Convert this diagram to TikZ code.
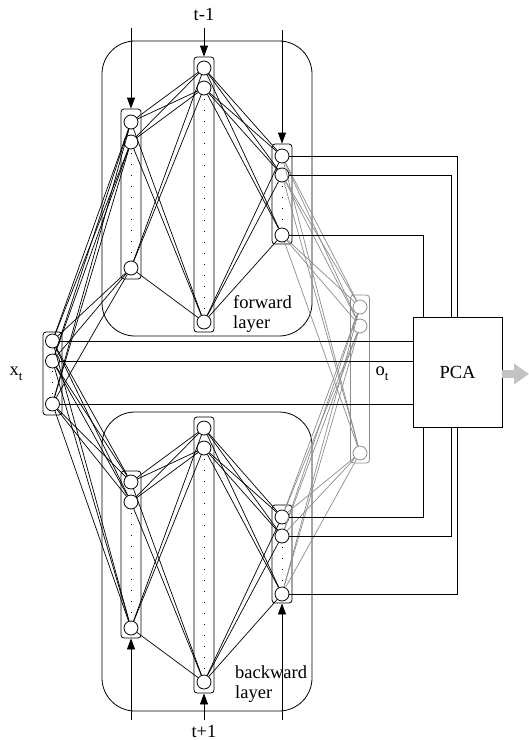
\documentclass[tikz,border=0pt]{standalone}
\usepackage{fontspec}
\setmainfont{Liberation Serif}
\usetikzlibrary{arrows.meta}
\definecolor{ogray}{RGB}{140,140,140}
\definecolor{agray}{RGB}{195,195,195}
\begin{document}
\begin{tikzpicture}[x=1pt,y=-1pt,
  neuron/.style={circle,draw,minimum size=14pt,inner sep=0pt,line width=0.8pt},
  gneuron/.style={neuron,draw=ogray},
  colbox/.style={draw,rounded corners=3pt,line width=0.8pt,minimum width=20pt,inner sep=0pt},
  gcolbox/.style={colbox,draw=ogray,minimum width=19pt},
  layerbox/.style={draw,rounded corners=33pt,line width=0.8pt,inner sep=0pt},
  conn/.style={line width=0.7pt},
  gconn/.style={line width=0.7pt,draw=ogray},
  feed/.style={line width=0.8pt,-{Triangle[length=11pt,width=8pt]}},
  lbl/.style={font=\fontsize{18.5}{20}\selectfont,inner sep=0pt},
  coldots/.style={line width=1pt,dash pattern=on 1pt off 10pt}
]
\useasboundingbox (0,0) rectangle (529,740);

% layer boxes
\node[layerbox,minimum width=210pt,minimum height=295pt] (fwd) at (207,188.5) {};
\node[layerbox,minimum width=210pt,minimum height=299pt] (bwd) at (207,561.5) {};

% column boxes
\node[colbox,minimum height=170pt] (FLb) at (131,194) {};
\node[colbox,minimum height=275pt] (FMb) at (204,194.5) {};
\node[colbox,minimum height=100pt] (FRb) at (282,194) {};
\node[colbox,minimum height=167pt] (BLb) at (131,554.5) {};
\node[colbox,minimum height=276pt] (BMb) at (204,555) {};
\node[colbox,minimum height=98pt] (BRb) at (282,554) {};
\node[colbox,minimum height=83pt,minimum width=19pt] (Xb) at (52.5,373.5) {};
\node[gcolbox,minimum height=168pt] (Ob) at (360,379) {};

% dots in columns
\draw[coldots] (131,153) -- (131,259);
\draw[coldots] (204,99) -- (204,313);
\draw[coldots] (282,186) -- (282,227);
\draw[coldots] (131,513) -- (131,619);
\draw[coldots] (204,459) -- (204,673);
\draw[coldots] (282,547) -- (282,586);
\draw[coldots] (52.5,371) -- (52.5,396);

% neurons
\node[neuron] (FL1) at (131,122) {};
\node[neuron] (FL2) at (131,142) {};
\node[neuron] (FL3) at (131,268) {};
\node[neuron] (FM1) at (204,68) {};
\node[neuron] (FM2) at (204,88) {};
\node[neuron] (FM3) at (204,322) {};
\node[neuron] (FR1) at (282,156) {};
\node[neuron] (FR2) at (282,175) {};
\node[neuron] (FR3) at (282,235) {};
\node[neuron] (BL1) at (131,482) {};
\node[neuron] (BL2) at (131,502) {};
\node[neuron] (BL3) at (131,628) {};
\node[neuron] (BM1) at (204,428) {};
\node[neuron] (BM2) at (204,448) {};
\node[neuron] (BM3) at (204,682) {};
\node[neuron] (BR1) at (282,517) {};
\node[neuron] (BR2) at (282,536) {};
\node[neuron] (BR3) at (282,594) {};
\node[neuron] (X1) at (52.5,341) {};
\node[neuron] (X2) at (52.5,361) {};
\node[neuron] (X3) at (52.5,404) {};
\node[gneuron] (O1) at (360,307) {};
\node[gneuron] (O2) at (360,326) {};
\node[gneuron] (O3) at (360,453) {};

% PCA
\node[draw,line width=0.8pt,minimum width=89pt,minimum height=110pt,inner sep=0pt,
      font=\fontsize{18.5}{20}\selectfont] (PCA) at (457.5,372) {PCA};

% full connections
\foreach \a in {1,2,3}{
  \foreach \b in {1,2,3}{
    \draw[conn] (X\a) -- (FL\b);
    \draw[conn] (X\a) -- (BL\b);
    \draw[conn] (FL\a) -- (FM\b);
    \draw[conn] (FM\a) -- (FR\b);
    \draw[conn] (BL\a) -- (BM\b);
    \draw[conn] (BM\a) -- (BR\b);
    \draw[gconn] (FR\a) -- (O\b);
    \draw[gconn] (BR\a) -- (O\b);
  }
}

% input to PCA
\foreach \a in {1,2,3}{
  \draw[conn] (X\a) -- (X\a -| PCA.west);
}

% recurrent layers to PCA
\coordinate (P1) at (457,317);
\coordinate (P2) at (451,317);
\coordinate (P3) at (423,317);
\coordinate (Q1) at (423,427);
\coordinate (Q2) at (451,427);
\coordinate (Q3) at (457,427);
\draw[conn] (FR1) -| (P1);
\draw[conn] (FR2) -| (P2);
\draw[conn] (FR3) -| (P3);
\draw[conn] (BR1) -| (Q1);
\draw[conn] (BR2) -| (Q2);
\draw[conn] (BR3) -| (Q3);

% time arrows
\coordinate (tFL) at (131,28);
\coordinate (tFM) at (204,28);
\coordinate (tFR) at (282,30);
\coordinate (tBL) at (131,720);
\coordinate (tBM) at (204,720);
\coordinate (tBR) at (282,720);
\draw[feed] (tFL) -- (FLb);
\draw[feed] (tFM) -- (FMb);
\draw[feed] (tFR) -- (FRb);
\draw[feed] (tBL) -- (BLb);
\draw[feed] (tBM) -- (BMb);
\draw[feed] (tBR) -- (BRb);

% output arrow
\coordinate (out) at (529,374);
\draw[line width=8.5pt,draw=agray,-{Triangle[length=15pt,width=20pt]},fill=agray] (PCA.east |- out) -- (out);

% labels
\node[lbl] (tm1) at (204,14.5) {t-1};
\node[lbl] (tp1) at (204,731) {t+1};
\node[lbl,anchor=west] (fw1) at (233,302) {forward};
\node[lbl,anchor=west] (fw2) at (233,324) {layer};
\node[lbl,anchor=west] (bw1) at (235,672) {backward};
\node[lbl,anchor=west] (bw2) at (235,694) {layer};
\node[lbl] (xt) at (16,374) {x\raisebox{-5pt}{\fontsize{13}{13}\selectfont t}};
\node[lbl] (ot) at (382,374) {o\raisebox{-5pt}{\fontsize{13}{13}\selectfont t}};
\end{tikzpicture}
\end{document}
